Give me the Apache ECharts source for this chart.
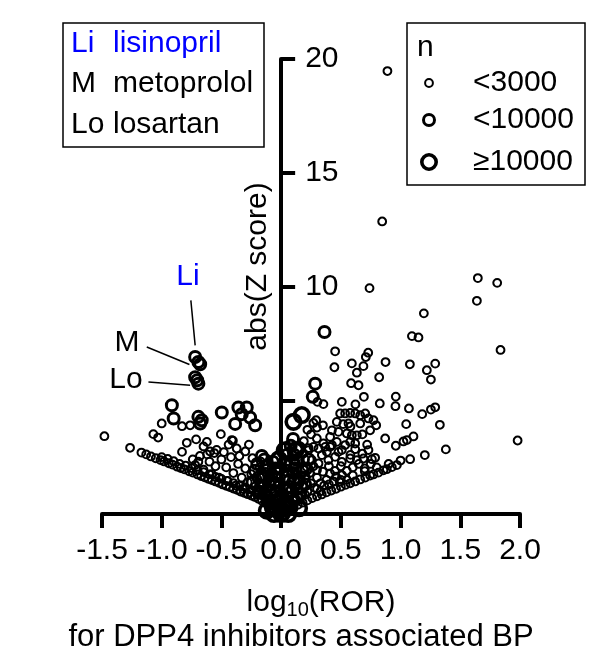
<!DOCTYPE html>
<html>
<head>
<meta charset="utf-8">
<script src="https://cdn.jsdelivr.net/npm/echarts@6.0.0/dist/echarts.min.js"></script>
<style>
    html, body { margin: 0; padding: 0; background: #fff; }
    #main { width: 603px; height: 666px; }
</style>
</head>
<body>
<div id="main"></div>
<script>
// log10(ROR), abs(Z score), one list per n class
var smallPts = [
    // right, sparse upper part
    [0.89, 19.47], [0.846, 12.86], [0.74, 9.93], [1.647, 10.37], [1.809, 10.16], [1.639, 9.37],
    [1.195, 8.82], [1.095, 7.82], [1.15, 7.76], [1.837, 7.21], [0.452, 7.15], [0.729, 7.09],
    [0.709, 6.90], [0.446, 6.45], [0.592, 6.62], [0.689, 6.50], [0.634, 6.21], [0.874, 6.68],
    [1.078, 6.58], [1.29, 6.61], [1.22, 6.32], [1.254, 5.91], [0.821, 6.01], [0.586, 5.75], [0.648, 5.66],
    // right, middle
    [1.07, 4.64], [1.181, 4.39], [1.254, 4.59], [1.29, 4.69], [1.047, 3.95], [1.329, 3.92], [1.98, 3.23],
    [1.108, 3.41], [1.053, 3.25], [1.024, 3.19], [1.379, 2.84], [1.203, 2.59], [1.08, 2.41],
    [0.508, 4.93], [0.622, 4.82], [0.693, 5.15], [0.826, 4.86], [0.96, 5.16], [0.957, 4.74],
    [0.304, 4.93], [0.354, 4.83],
    [0.293, 4.12], [0.494, 4.42], [0.536, 4.42], [0.578, 4.44], [0.62, 4.42], [0.662, 4.34],
    [0.704, 4.42], [0.731, 4.20], [0.773, 4.12], [0.796, 3.90],
    [0.466, 4.05], [0.425, 3.68], [0.41, 3.39], [0.48, 3.61], [0.564, 3.98], [0.662, 3.98], [0.745, 3.68],
    [0.871, 3.32], [0.96, 3.00],
    [0.55, 3.54], [0.592, 3.46], [0.634, 3.46], [0.578, 3.17], [0.536, 3.03], [0.62, 3.10],
    [0.299, 3.32], [0.354, 3.10], [0.41, 2.95], [0.466, 3.17], [0.508, 2.81], [0.452, 2.51],
    [0.396, 2.37], [0.341, 2.59], [0.508, 2.29], [0.578, 2.44], [0.634, 2.37], [0.689, 2.44],
    [0.731, 2.81], [0.76, 2.41], [0.787, 2.47],
    // right, lower band (two rows)
    [0.969, 2.15], [0.927, 2.06], [0.885, 1.97], [0.857, 1.92], [0.815, 1.82], [0.773, 1.74],
    [0.745, 1.69], [0.704, 1.60], [0.662, 1.52], [0.62, 1.43], [0.578, 1.35], [0.54, 1.28],
    [0.50, 1.20], [0.46, 1.11], [0.42, 1.03], [0.38, 0.95], [0.34, 0.86], [0.30, 0.78],
    [0.26, 0.70], [0.22, 0.60], [0.18, 0.50], [0.14, 0.40], [0.10, 0.28], [0.06, 0.16],
    [1.0, 2.35], [0.9, 2.20], [0.8, 2.05], [0.7, 1.88], [0.6, 1.70], [0.5, 1.50], [0.4, 1.30],
    [0.3, 1.10], [0.2, 0.85], [0.12, 0.60],
    // right, inside the fan
    [0.30, 1.93], [0.35, 1.86], [0.41, 1.78], [0.46, 1.64], [0.51, 1.71], [0.38, 1.50],
    [0.44, 1.42], [0.49, 1.42], [0.33, 1.35], [0.55, 1.50],
    [0.187, 2.66], [0.229, 2.81], [0.257, 2.37], [0.313, 2.22], [0.215, 2.07], [0.271, 2.95],
    [0.369, 2.95], [0.425, 3.03], [0.313, 2.88], [0.383, 2.73], [0.48, 2.73],
    [0.22, 1.00], [0.25, 1.35], [0.28, 1.15], [0.30, 1.60], [0.33, 1.00], [0.36, 1.25],
    [0.24, 1.80], [0.27, 2.10], [0.20, 2.40], [0.23, 2.90], [0.19, 3.20], [0.25, 3.50],
    [0.30, 3.80], [0.27, 4.00], [0.35, 3.90], [0.22, 3.70], [0.40, 2.10], [0.45, 1.90],
    [0.55, 1.90], [0.60, 2.05], [0.65, 2.20], [0.70, 2.00], [0.75, 2.20], [0.50, 2.10],
    [0.58, 2.60], [0.62, 2.85], [0.68, 2.65], [0.72, 3.05], [0.68, 3.50], [0.58, 3.85], [0.52, 3.95],
    // left, sparse
    [-1.48, 3.42], [-1.265, 2.91], [-1.07, 3.51], [-1.03, 3.36], [-1.0, 3.98], [-0.83, 3.86],
    [-0.762, 3.90], [-0.505, 3.51], [-0.712, 3.28], [-0.622, 3.17], [-0.79, 3.13], [-0.404, 3.22],
    [-0.83, 2.73], [-0.74, 2.40], [-0.693, 2.30], [-0.65, 2.97], [-0.595, 2.75], [-0.54, 2.82],
    [-0.372, 2.88], [-0.413, 3.25],
    // left, lower band (two rows)
    [-1.17, 2.70], [-1.13, 2.62], [-1.09, 2.53], [-1.05, 2.45], [-1.01, 2.37], [-0.98, 2.31],
    [-0.94, 2.23], [-0.91, 2.17], [-0.87, 2.08], [-0.84, 2.02], [-0.81, 1.96], [-0.77, 1.88],
    [-0.74, 1.82], [-0.70, 1.74], [-0.67, 1.67], [-0.64, 1.61], [-0.61, 1.55], [-0.58, 1.49],
    [-0.55, 1.43], [-0.52, 1.37], [-0.49, 1.30], [-0.46, 1.24], [-0.43, 1.18], [-0.40, 1.12],
    [-0.37, 1.06], [-0.34, 0.99], [-0.31, 0.93], [-0.28, 0.87], [-0.25, 0.81], [-0.22, 0.75],
    [-0.19, 0.67], [-0.16, 0.58], [-0.13, 0.48], [-0.10, 0.38], [-0.07, 0.27], [-0.04, 0.16],
    [-1.0, 2.50], [-0.95, 2.42], [-0.9, 2.32], [-0.85, 2.20], [-0.8, 2.12], [-0.75, 2.02],
    [-0.7, 1.92], [-0.65, 1.84], [-0.6, 1.74], [-0.55, 1.63], [-0.5, 1.54], [-0.45, 1.45],
    [-0.4, 1.36], [-0.35, 1.25], [-0.3, 1.16], [-0.25, 1.06], [-0.2, 0.96], [-0.15, 0.80], [-0.1, 0.62],
    // left, inside the fan
    [-0.60, 2.30], [-0.55, 2.10], [-0.50, 2.40], [-0.46, 2.05], [-0.42, 2.50], [-0.40, 1.80],
    [-0.36, 2.20], [-0.33, 1.60], [-0.30, 2.00], [-0.28, 1.40], [-0.25, 1.75], [-0.22, 1.20],
    [-0.20, 1.55], [-0.18, 2.05], [-0.15, 1.00], [-0.12, 1.35], [-0.10, 0.80], [-0.08, 1.10],
    [-0.06, 0.60], [-0.05, 0.40], [-0.65, 1.95], [-0.58, 1.75], [-0.52, 1.60], [-0.45, 1.45],
    [-0.38, 1.25], [-0.32, 1.10], [-0.26, 0.95], [-0.20, 0.85], [-0.72, 2.15], [-0.68, 2.55],
    [-0.62, 2.62], [-0.56, 2.68], [-0.48, 2.72], [-0.44, 3.05], [-0.35, 2.55], [-0.30, 2.75],
    [-0.27, 3.05], [-0.24, 2.45], [-0.17, 2.30], [-0.13, 1.85], [-0.10, 1.55], [-0.08, 2.05]
];

var mediumPts = [
    [-0.72, 6.90], [-0.693, 6.68], [-0.678, 6.58], [-0.72, 6.01], [-0.703, 5.88], [-0.693, 5.73],
    [-0.915, 4.78], [-0.90, 4.20], [-0.693, 4.27], [-0.665, 4.12], [-0.678, 3.98], [-0.497, 4.46],
    [-0.358, 4.68], [-0.288, 4.68], [-0.33, 4.39], [-0.26, 4.24], [-0.385, 3.96], [-0.218, 3.90],
    [-0.162, 2.55],
    [-0.12, 2.10], [-0.08, 1.75], [-0.06, 1.35], [-0.04, 1.00], [-0.03, 0.65], [-0.02, 0.35],
    [-0.10, 1.30], [-0.15, 1.70], [-0.05, 2.00], [-0.14, 2.40],
    [-0.22, 1.90], [-0.19, 1.60], [-0.17, 1.20], [-0.14, 0.90], [-0.11, 0.60], [-0.08, 0.45],
    [-0.06, 0.25], [-0.20, 2.20], [-0.24, 1.40], [-0.18, 0.95], [-0.12, 0.75], [-0.09, 1.50],
    [-0.07, 2.30], [-0.03, 1.80], [-0.02, 1.20],
    [0.363, 8.0], [0.285, 5.73], [0.265, 5.15], [0.131, 2.37], [0.05, 2.6], [0.08, 3.0],
    [0.10, 1.8], [0.12, 2.0], [0.15, 1.5], [0.18, 1.9], [0.07, 1.2], [0.13, 1.1], [0.20, 1.3],
    [0.09, 0.7], [0.16, 0.9],
    [0.03, 2.2], [0.05, 1.9], [0.07, 1.5], [0.09, 1.0], [0.11, 0.6], [0.14, 0.7], [0.17, 1.2],
    [0.19, 1.6], [0.21, 2.0], [0.23, 2.4], [0.11, 2.6], [0.06, 0.5], [0.04, 0.15], [0.15, 2.9], [0.10, 3.3]
];

var largePts = [
    [0.173, 4.35], [0.103, 4.05], [-0.05, 1.50], [-0.03, 0.90], [-0.02, 0.50], [0.02, 0.40],
    [0.04, 1.00], [0.06, 1.60], [0.09, 2.20], [0.12, 2.80], [0.00, 0.20], [0.01, 0.05],
    [-0.10, 0.90], [-0.07, 0.30], [0.07, 0.30], [0.12, 1.40], [-0.15, 1.50], [0.03, 2.80],
    [-0.02, 2.40], [0.15, 0.25], [-0.12, 0.15], [-0.06, 0.0], [0.06, 0.0], [0.0, 0.0]
];

// labelled drugs
var annoText = ['Li', 'M', 'Lo'];
var annoColor = ['#0000ff', '#000000', '#000000'];
var annoTextPos = [[-0.78, 10.45], [-1.29, 7.52], [-1.30, 5.92]];
var annoLineFrom = [[-0.756, 9.39], [-1.125, 7.34], [-1.111, 5.80]];
var annoLineTo = [[-0.72, 7.41], [-0.768, 6.57], [-0.762, 5.66]];
var drugNames = ['lisinopril', 'metoprolol', 'losartan'];

var sizeClasses = ['<3000', '<10000', '\u226510000'];
var xMin = -1.5, xMax = 2, yMin = 0, yMax = 20;
var yTickLabels = {0: '', 5: '', 10: '10', 15: '15', 20: '20'};

var FONT = 'Liberation Sans, Arial, sans-serif';
var gridLeft = 102, gridRight = 83;
// y axis sits at log10(ROR) = 0, so shift it in from the grid edge
var yAxisShift = (0 - xMin) / (xMax - xMin) * (603 - gridLeft - gridRight);

function ringSeries(name, data, size, border) {
    return {
        name: name,
        type: 'scatter',
        data: data,
        symbol: 'circle',
        symbolSize: size,
        itemStyle: {color: 'rgba(0,0,0,0)', borderColor: '#000', borderWidth: border, opacity: 1},
        emphasis: {disabled: true},
        silent: true
    };
}

var series = [
    ringSeries(sizeClasses[0], smallPts, 7.8, 2.0),
    ringSeries(sizeClasses[1], mediumPts, 11, 3.0),
    ringSeries(sizeClasses[2], largePts, 14.5, 3.6)
];

// leader lines
for (var i = 0; i < annoText.length; i++) {
    series.push({
        type: 'line',
        data: [annoLineFrom[i], annoLineTo[i]],
        symbol: 'none',
        lineStyle: {color: '#000', width: 1.5},
        silent: true
    });
}
// Li / M / Lo labels
series.push({
    type: 'scatter',
    symbolSize: 0,
    silent: true,
    itemStyle: {opacity: 1},
    data: annoText.map(function (t, i) {
        return {
            value: annoTextPos[i],
            label: {show: true, position: 'inside', formatter: t, color: annoColor[i],
                textBorderWidth: 0, fontSize: 30, fontFamily: FONT}
        };
    })
});

// boxes at the top
var graphics = [
    {type: 'rect', shape: {x: 63, y: 23, width: 201, height: 124},
        style: {fill: 'none', stroke: '#000', lineWidth: 1.5}},
    {type: 'rect', shape: {x: 407, y: 23, width: 178, height: 162},
        style: {fill: 'none', stroke: '#000', lineWidth: 1.5}},
    {type: 'text', x: 417, y: 48,
        style: {text: 'n', font: '30px ' + FONT, fill: '#000', verticalAlign: 'middle'}}
];
var boxRowY = [44, 84, 125];
for (var j = 0; j < annoText.length; j++) {
    graphics.push({type: 'text', x: 71, y: boxRowY[j],
        style: {text: annoText[j], font: '30px ' + FONT, fill: annoColor[j], verticalAlign: 'middle'}});
    graphics.push({type: 'text', x: 113, y: boxRowY[j],
        style: {text: drugNames[j], font: '30px ' + FONT, fill: annoColor[j], verticalAlign: 'middle'}});
}
var keyY = [83, 120, 162];
var keyR = [3.9, 5.5, 7.2];
var keyW = [2.0, 3.0, 3.6];
for (var k = 0; k < sizeClasses.length; k++) {
    graphics.push({type: 'circle', shape: {cx: 429, cy: keyY[k], r: keyR[k]},
        style: {fill: 'none', stroke: '#000', lineWidth: keyW[k]}});
    graphics.push({type: 'text', x: 473, y: keyY[k],
        style: {text: sizeClasses[k], font: '30px ' + FONT, fill: '#000', verticalAlign: 'middle'}});
}

var option = {
    animation: false,
    backgroundColor: '#fff',
    grid: {left: gridLeft, right: gridRight, top: 59, bottom: 152},
    xAxis: {
        type: 'value',
        min: xMin,
        max: xMax,
        interval: 0.5,
        axisLine: {onZero: false, lineStyle: {color: '#000', width: 4}},
        axisTick: {length: 14, lineStyle: {color: '#000', width: 4}},
        axisLabel: {
            color: '#000', fontSize: 30, fontFamily: FONT, margin: 22,
            formatter: function (v) { return v.toFixed(1); }
        },
        splitLine: {show: false},
        name: '{p|log}{s|10}{a|(ROR)}\n{b|for DPP4 inhibitors associated BP}',
        nameLocation: 'middle',
        nameGap: 72,
        nameTextStyle: {
            color: '#000',
            fontFamily: FONT,
            rich: {
                p: {fontSize: 30, fontFamily: FONT, color: '#000', lineHeight: 34, padding: [0, 0, 0, 20]},
                a: {fontSize: 30, fontFamily: FONT, color: '#000', lineHeight: 34},
                s: {fontSize: 20, fontFamily: FONT, color: '#000', lineHeight: 12, verticalAlign: 'bottom'},
                b: {fontSize: 31, fontFamily: FONT, color: '#000', lineHeight: 34, padding: [0, 20, 0, 0]}
            }
        }
    },
    yAxis: {
        type: 'value',
        min: yMin,
        max: yMax,
        interval: 5,
        offset: -yAxisShift,
        axisLine: {onZero: false, lineStyle: {color: '#000', width: 4}},
        axisTick: {inside: true, length: 14, lineStyle: {color: '#000', width: 4}},
        axisLabel: {
            inside: true, margin: 24, color: '#000', fontSize: 30, fontFamily: FONT,
            formatter: function (v) { return yTickLabels[v]; }
        },
        splitLine: {show: false},
        name: 'abs(Z score)',
        nameLocation: 'middle',
        nameGap: 8,
        nameTextStyle: {color: '#000', fontSize: 30, fontFamily: FONT, padding: [0, 0, 0, 40]}
    },
    graphic: graphics,
    series: series
};

var myChart = echarts.init(document.getElementById('main'));
myChart.setOption(option);
</script>
</body>
</html>
